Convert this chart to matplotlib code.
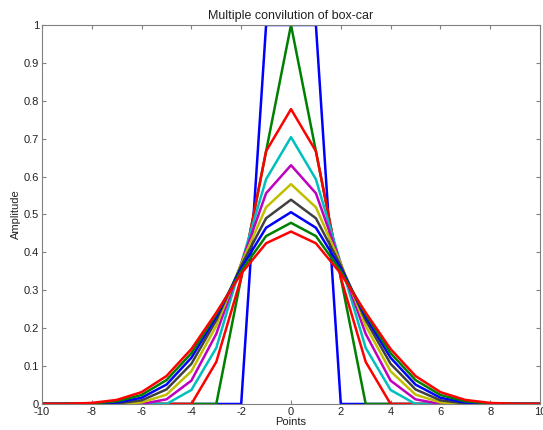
import matplotlib
matplotlib.use("Agg")
import matplotlib.pyplot as plt
import numpy as np

plt.rcParams['font.family'] = ['Liberation Sans', 'DejaVu Sans']
plt.rcParams['axes.unicode_minus'] = False

x = list(range(-10, 11))

# Values (centered curves; zero elsewhere)
s1 = [1, 1, 1]
s2 = [0.333, 0.667, 1.0, 0.667, 0.333]
s3 = [0.111, 0.333, 0.667, 0.778, 0.667, 0.333, 0.111]
s4 = [0.037, 0.148, 0.370, 0.593, 0.704, 0.593, 0.370, 0.148, 0.037]
s5 = [0.0123, 0.0617, 0.185, 0.370, 0.556, 0.630, 0.556, 0.370, 0.185, 0.0617, 0.0123]
s6 = [0.0041, 0.0247, 0.0864, 0.206, 0.370, 0.519, 0.580, 0.519, 0.370, 0.206, 0.0864, 0.0247, 0.0041]
s7 = [0.0014, 0.0096, 0.0384, 0.106, 0.221, 0.365, 0.490, 0.539, 0.490, 0.365, 0.221, 0.106, 0.0384, 0.0096, 0.0014]
s8 = [0.0005, 0.0037, 0.0165, 0.0512, 0.122, 0.230, 0.358, 0.465, 0.506, 0.465, 0.358, 0.230, 0.122, 0.0512, 0.0165, 0.0037, 0.0005]
s9 = [0.0002, 0.0014, 0.0069, 0.0238, 0.0631, 0.134, 0.237, 0.351, 0.443, 0.478, 0.443, 0.351, 0.237, 0.134, 0.0631, 0.0238, 0.0069, 0.0014, 0.0002]
s10 = [0.0001, 0.0005, 0.0028, 0.0107, 0.0313, 0.0738, 0.145, 0.241, 0.344, 0.424, 0.455, 0.424, 0.344, 0.241, 0.145, 0.0738, 0.0313, 0.0107, 0.0028, 0.0005, 0.0001]

series = [s1, s2, s3, s4, s5, s6, s7, s8, s9, s10]
colors = [(0, 0, 1), (0, 0.5, 0), (1, 0, 0), (0, 0.75, 0.75), (0.75, 0, 0.75),
          (0.75, 0.75, 0), (0.25, 0.25, 0.25), (0, 0, 1), (0, 0.5, 0), (1, 0, 0)]

fig = plt.figure(figsize=(5.43, 4.30), dpi=100)
ax = fig.add_axes([0.0773, 0.0605, 0.9172, 0.8814])

for s, c in zip(series, colors):
    half = len(s) // 2
    y = [0.0] * len(x)
    for i, v in enumerate(s):
        y[10 - half + i] = v
    ax.plot(x, y, color=c, linewidth=1.8, clip_on=True)

ax.set_xlim(-10, 10)
ax.set_ylim(0, 1)
ax.set_xticks(range(-10, 11, 2))
ax.set_yticks(np.round(np.arange(0, 1.01, 0.1), 1))
ax.set_yticklabels(['0', '0.1', '0.2', '0.3', '0.4', '0.5', '0.6', '0.7', '0.8', '0.9', '1'])
ax.tick_params(direction='in', length=3, color='#808080', labelsize=8,
               labelcolor='#222222', top=True, right=True, pad=2)
for sp in ax.spines.values():
    sp.set_color('#808080')
    sp.set_linewidth(0.8)
ax.set_title('Multiple convilution of box-car', fontsize=9, color='#222222', pad=4)
ax.set_xlabel('Points', fontsize=8, color='#222222', labelpad=0)
ax.set_ylabel('Amplitude', fontsize=8, color='#222222', labelpad=2)

fig.savefig('out.png', dpi=100)
